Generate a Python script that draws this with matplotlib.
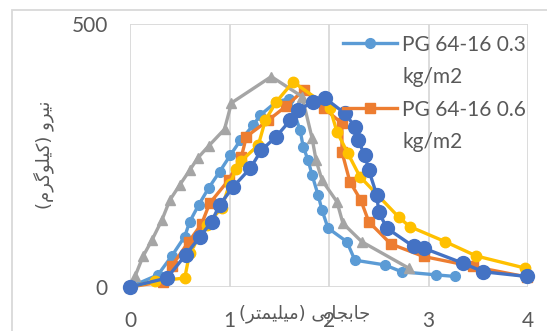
import matplotlib
matplotlib.use('Agg')
import matplotlib.pyplot as plt
from matplotlib.legend_handler import HandlerLine2D
from matplotlib.patches import Rectangle

# Series (x: displacement mm, y: force kg)
x_pg03 = [0, 0.28, 0.42, 0.55, 0.60, 0.69, 0.79, 0.90, 1.01, 1.11, 1.24, 1.31, 1.47, 1.60,
          1.71, 1.74, 1.79, 1.83, 1.89, 1.93, 1.99, 2.18, 2.26, 2.56, 2.73, 3.08, 3.27]
y_pg03 = [0, 23, 59, 96, 124, 156, 188, 219, 251, 279, 308, 327, 352, 358,
          298, 267, 241, 213, 175, 146, 112, 86, 51, 42, 29, 23, 20]

x_pg06 = [0, 0.33, 0.42, 0.59, 0.72, 0.80, 0.99, 1.12, 1.17, 1.39, 1.57, 1.75, 1.95,
          2.13, 2.13, 2.21, 2.32, 2.40, 2.62, 2.95, 3.45, 3.99]
y_pg06 = [0, 10, 40, 86, 120, 159, 203, 248, 286, 317, 344, 375, 340,
          311, 257, 200, 165, 124, 82, 58, 39, 19]

x_grey = [0, 0.05, 0.13, 0.22, 0.32, 0.40, 0.50, 0.60, 0.68, 0.79, 0.95, 1.02, 1.42,
          1.73, 1.83, 1.87, 1.93, 2.08, 2.14, 2.33, 2.80]
y_grey = [0, 20, 58, 89, 127, 165, 194, 222, 245, 268, 300, 350, 400,
          362, 283, 241, 203, 162, 121, 86, 36]

x_yell = [0, 0.25, 0.55, 0.60, 0.77, 0.92, 1.00, 1.07, 1.12, 1.29, 1.36, 1.47, 1.64,
          2.01, 2.08, 2.19, 2.31, 2.70, 2.81, 3.17, 3.48, 3.97]
y_yell = [0, 11, 17, 65, 118, 150, 195, 225, 240, 270, 317, 352, 390,
          340, 295, 254, 210, 133, 115, 86, 59, 36]

x_dblu = [0, 0.37, 0.56, 0.70, 0.82, 0.90, 1.04, 1.21, 1.32, 1.47, 1.61, 1.69, 1.84, 1.96,
          2.16, 2.26, 2.29, 2.36, 2.40, 2.48, 2.50, 2.58, 2.85, 2.95, 3.35, 3.55, 3.99]
y_dblu = [0, 17, 61, 95, 124, 156, 191, 226, 260, 286, 317, 336, 352, 359,
          330, 305, 279, 251, 222, 175, 143, 112, 77, 74, 45, 29, 20]

x_ticks = [0, 1, 2, 3, 4]
y_ticks = [0, 500]
legend_labels = ['PG 64-16 0.3\nkg/m2', 'PG 64-16 0.6\nkg/m2']

# Persian titles in visual order (presentation forms): "جابجایی (میلیمتر)" / "نیرو (کیلوگرم)"
X_TITLE = '(\ufeae\ufe98\ufee4\ufbff\ufee0\ufbff\ufee3) \ufbfd\ufbfe\ufe8e\ufea0\ufe91\ufe8e\ufe9f'
Y_TITLE = '(\ufee1\ufeae\ufb94\ufeee\ufee0\ufbff\ufb90) \ufeed\ufeae\ufbff\ufee7'

TXT = '#595959'
GRID = '#D9D9D9'
FS = 15

plt.rcParams['font.family'] = ['Lato', 'DejaVu Sans']

fig = plt.figure(figsize=(5.47, 3.31), dpi=100)
ax = fig.add_axes([130/547, 44/331, 398/547, 263/331])

kw = dict(linewidth=2.4, clip_on=False)
l1, = ax.plot(x_pg03, y_pg03, color='#5B9BD5', marker='o', markersize=7, **kw)
l2, = ax.plot(x_pg06, y_pg06, color='#ED7D31', marker='s', markersize=6.5, **kw)
ax.plot(x_grey, y_grey, color='#A5A5A5', marker='^', markersize=6.5, **kw)
ax.plot(x_yell, y_yell, color='#FFC000', marker='o', markersize=7.5, **kw)
ax.plot(x_dblu, y_dblu, color='#4472C4', marker='o', markersize=10, **kw)

ax.set_xlim(0, 4)
ax.set_ylim(0, 500)
ax.set_xticks(x_ticks)
ax.set_yticks(y_ticks)
ax.tick_params(length=0, labelsize=FS, labelcolor=TXT)
ax.tick_params(axis='x', pad=17)
ax.tick_params(axis='y', pad=16)
ax.grid(True, color=GRID, linewidth=1.3)
ax.set_axisbelow(True)
for s in ax.spines.values():
    s.set_visible(False)

fig.text(305/547, 1-314/331, X_TITLE, family='DejaVu Sans', fontsize=13,
         color=TXT, ha='center', va='center')
fig.text(44/547, 1-155/331, Y_TITLE, family='DejaVu Sans', fontsize=13,
         color=TXT, ha='center', va='center', rotation=90)


class FirstLineHandler(HandlerLine2D):
    # put the legend line next to the first text line, like Excel
    def create_artists(self, legend, orig_handle, xdescent, ydescent,
                       width, height, fontsize, trans):
        return super().create_artists(legend, orig_handle, xdescent,
                                      ydescent - 1.75 * fontsize, width, height,
                                      fontsize, trans)


leg = fig.legend([l1, l2], legend_labels, loc='upper left',
                 bbox_to_anchor=(343/547, 1-35/331), frameon=False,
                 fontsize=FS, labelcolor=TXT, borderpad=0, borderaxespad=0,
                 handlelength=2.6, handletextpad=0.25, labelspacing=0.6,
                 handler_map={l1: FirstLineHandler(), l2: FirstLineHandler()})
for t in leg.get_texts():
    t.set_linespacing(1.75)

fig.add_artist(Rectangle((12/547, -0.1), 1.0, 1.1 - 10/331, transform=fig.transFigure,
                         fill=False, edgecolor=GRID, linewidth=1.3))

fig.savefig('out.png', dpi=100)
